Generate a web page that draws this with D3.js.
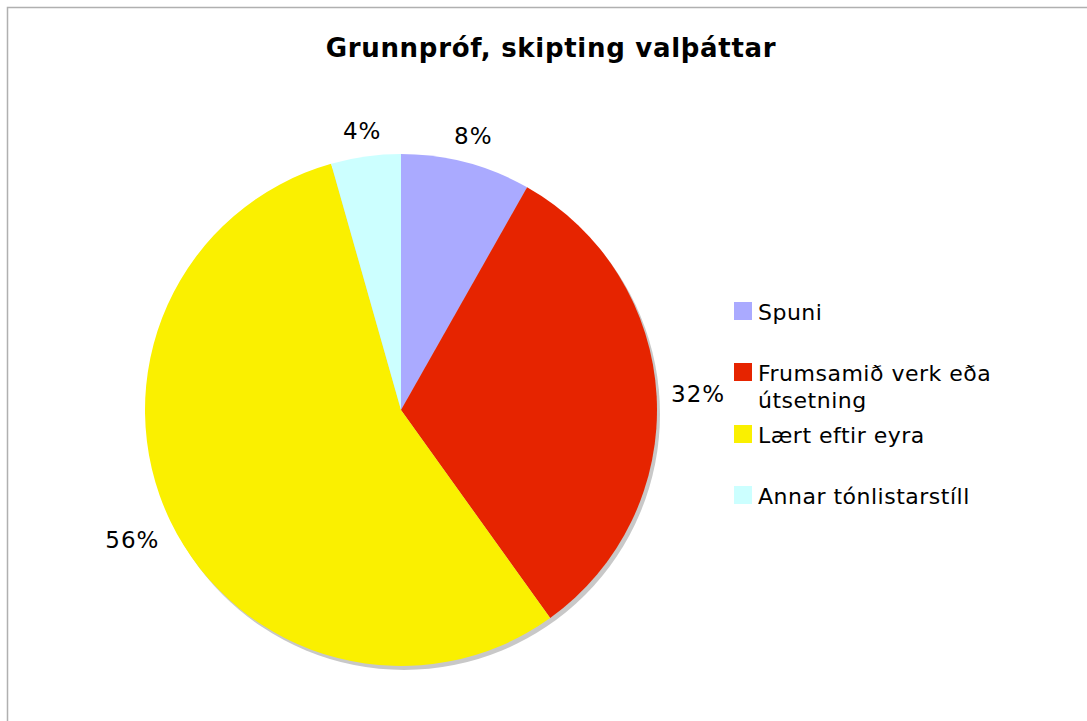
<!DOCTYPE html>
<html>
<head>
<meta charset="utf-8">
<script src="https://cdn.jsdelivr.net/npm/d3@7"></script>
<style>
  body { margin: 0; background: #fff; }
  svg { display: block; font-family: "DejaVu Sans", Verdana, sans-serif; }
</style>
</head>
<body>
<div id="chart"></div>
<script>
// DATA (percent shares)
const categories = ["Spuni", "Frumsamið verk eða útsetning", "Lært eftir eyra", "Annar tónlistarstíll"];
const legendLines = [["Spuni"], ["Frumsamið verk eða", "útsetning"], ["Lært eftir eyra"], ["Annar tónlistarstíll"]];
const shares = [8.2, 31.9, 55.5, 4.4];
const colors = ["#aaaaff", "#e62400", "#faf000", "#ccffff"];
const title = "Grunnpróf, skipting valþáttar";

const width = 1087, height = 721;
const cx = 401, cy = 410, radius = 256;

const svg = d3.select("#chart").append("svg")
  .attr("width", width)
  .attr("height", height);

// frame (runs off right and bottom)
svg.append("path")
  .attr("d", `M7.5,${height + 5} V7.5 H${width + 5}`)
  .attr("fill", "none")
  .attr("stroke", "#b0b0b0")
  .attr("stroke-width", 1.5);

// title
svg.append("text")
  .attr("x", 551)
  .attr("y", 57)
  .attr("text-anchor", "middle")
  .attr("font-size", 26)
  .attr("font-weight", "bold")
  .attr("letter-spacing", 0.7)
  .text(title);

const total = d3.sum(shares);
const pie = d3.pie().sort(null).value((d) => d);
const arcs = pie(shares);
const arc = d3.arc().innerRadius(0).outerRadius(radius);

const g = svg.append("g").attr("transform", `translate(${cx},${cy})`);

// shadow
g.append("circle")
  .attr("cx", 3)
  .attr("cy", 4)
  .attr("r", radius)
  .attr("fill", "#c8c8c8");

g.selectAll(".slice")
  .data(arcs)
  .join("path")
  .attr("class", "slice")
  .attr("d", arc)
  .attr("fill", (d, i) => colors[i]);

// percent labels: box pushed out along the bisector
const labelR = 270;
g.selectAll(".pct")
  .data(arcs)
  .join("text")
  .attr("class", "pct")
  .attr("font-size", 23)
  .attr("letter-spacing", 1)
  .attr("text-anchor", "middle")
  .attr("dy", "0.35em")
  .text((d) => Math.round((d.value / total) * 100) + "%")
  .attr("transform", function (d) {
    const a = (d.startAngle + d.endAngle) / 2;
    const s = Math.sin(a), c = -Math.cos(a);
    const w = this.getComputedTextLength();
    const r = labelR + Math.abs(s) * w / 2 + Math.abs(c) * 9;
    return `translate(${r * s},${r * c})`;
  });

// legend
const legendY = [320, 381, 443, 504];
const legend = svg.append("g").attr("transform", "translate(734,0)");
const item = legend.selectAll(".item")
  .data(categories)
  .join("g")
  .attr("class", "item")
  .attr("transform", (d, i) => `translate(0,${legendY[i]})`);

item.append("rect")
  .attr("x", 0)
  .attr("y", -18)
  .attr("width", 18)
  .attr("height", 18)
  .attr("fill", (d, i) => colors[i]);

item.append("text")
  .attr("font-size", 22)
  .attr("letter-spacing", 0.5)
  .selectAll("tspan")
  .data((d, i) => legendLines[i])
  .join("tspan")
  .attr("x", 24)
  .attr("dy", (d, j) => (j === 0 ? 0 : 27))
  .text((d) => d);
</script>
</body>
</html>
